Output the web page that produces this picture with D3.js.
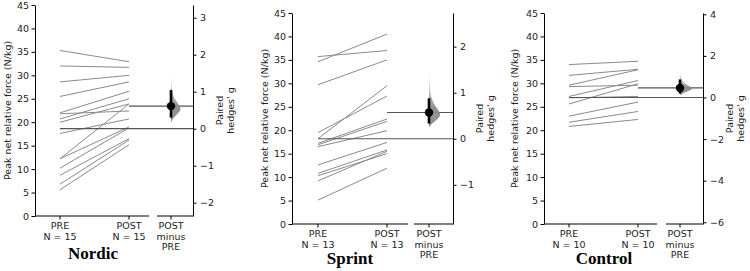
<!DOCTYPE html>
<html>
<head>
<meta charset="utf-8">
<script src="https://cdn.jsdelivr.net/npm/d3@7"></script>
<style>
  body { margin: 0; background: #fff; }
  svg { display: block; font-family: "DejaVu Sans", sans-serif; }
</style>
</head>
<body>
<svg id="drawing_region"></svg>
<script>
// values
const groups = ["Nordic", "Sprint", "Control"];
const conditions = ["PRE", "POST"];

const nordicPre  = [35.3, 32.0, 28.6, 25.5, 22.0, 21.8, 20.7, 20.0, 17.6, 12.2, 12.2, 10.2, 8.7, 6.8, 5.6];
const nordicPost = [32.9, 31.7, 30.0, 28.6, 26.6, 22.4, 25.0, 23.9, 20.7, 23.9, 19.0, 18.8, 16.5, 16.2, 15.2];

const sprintPre  = [35.7, 34.6, 29.7, 19.5, 18.2, 17.2, 16.9, 16.5, 12.6, 10.8, 10.3, 9.2, 5.1];
const sprintPost = [37.0, 40.5, 35.0, 27.3, 29.5, 22.4, 21.9, 19.9, 17.4, 15.8, 15.0, 15.5, 11.9];

const controlPre  = [34.0, 31.7, 29.6, 29.3, 27.2, 26.9, 25.6, 23.0, 21.7, 20.8];
const controlPost = [34.7, 33.0, 32.9, 29.6, 30.6, 27.2, 29.9, 26.0, 24.0, 22.3];

// paired hedges' g with 95% CI
const hedgesG = [0.61, 0.57, 0.46];
const ciLow   = [0.30, 0.33, 0.19];
const ciHigh  = [1.05, 0.88, 0.87];

// bootstrap distribution (relative density) of g
const nordicBootG    = [0.15, 0.25, 0.35, 0.45, 0.55, 0.65, 0.75, 0.85, 1.0, 1.2, 1.4, 1.6];
const nordicBootDens = [0, 0.12, 0.45, 0.85, 1.0, 0.8, 0.5, 0.28, 0.12, 0.04, 0.015, 0];
const sprintBootG    = [0.25, 0.32, 0.4, 0.5, 0.6, 0.7, 0.8, 0.95, 1.1, 1.3, 1.45, 1.6];
const sprintBootDens = [0, 0.2, 0.6, 1.0, 0.85, 0.55, 0.32, 0.14, 0.06, 0.02, 0.01, 0];
const controlBootG    = [0.1, 0.2, 0.3, 0.4, 0.5, 0.6, 0.7, 0.85, 1.0, 1.15, 1.3];
const controlBootDens = [0, 0.2, 0.6, 1.0, 0.85, 0.55, 0.3, 0.13, 0.05, 0.02, 0];

const leftTicks = [0, 5, 10, 15, 20, 25, 30, 35, 40, 45];
const nordicRightTicks  = [-2, -1, 0, 1, 2, 3];
const sprintRightTicks  = [-1, 0, 1, 2];
const controlRightTicks = [-6, -4, -2, 0, 2, 4];

const svg = d3.select('#drawing_region')
    .attr('width', 750)
    .attr('height', 271);

// violin fades out toward its upper tail
const grad = svg.append('defs').append('linearGradient')
    .attr('id', 'bootFill')
    .attr('x1', 0).attr('y1', 0).attr('x2', 0).attr('y2', 1);
grad.append('stop').attr('offset', '0%').attr('stop-color', '#8c8c8c').attr('stop-opacity', 0.15);
grad.append('stop').attr('offset', '45%').attr('stop-color', '#8c8c8c').attr('stop-opacity', 0.6);
grad.append('stop').attr('offset', '70%').attr('stop-color', '#8c8c8c').attr('stop-opacity', 0.95);
grad.append('stop').attr('offset', '100%').attr('stop-color', '#8c8c8c').attr('stop-opacity', 0.95);

// panel layout
const layouts = [
    { left: 35,  right: 193, top: 5,  bottom: 216, xPre: 60,  xPost: 129, xDiff: 171, seg1End: 149, seg2Start: 157, ylabX: 8,   titleX: 93,  titleY: 259, violinW: 10 },
    { left: 292, right: 453, top: 13, bottom: 224, xPre: 318, xPost: 387, xDiff: 429, seg1End: 408, seg2Start: 414, ylabX: 265, titleX: 350, titleY: 264, violinW: 12 },
    { left: 544, right: 703, top: 13, bottom: 224, xPre: 569, xPost: 638, xDiff: 680, seg1End: 657, seg2Start: 666, ylabX: 515, titleX: 604, titleY: 264, violinW: 13 }
];

const panelData = [
    { pre: nordicPre,  post: nordicPost,  bootG: nordicBootG,  bootD: nordicBootDens,  rTicks: nordicRightTicks },
    { pre: sprintPre,  post: sprintPost,  bootG: sprintBootG,  bootD: sprintBootDens,  rTicks: sprintRightTicks },
    { pre: controlPre, post: controlPost, bootG: controlBootG, bootD: controlBootDens, rTicks: controlRightTicks }
];

const FS = 9.5;
const TXT = '#222';

groups.forEach((name, i) => {
    const L = layouts[i];
    const D = panelData[i];
    const g = svg.append('g');

    const x = d3.scalePoint().domain(conditions).range([L.xPre, L.xPost]);
    const y = d3.scaleLinear().domain([0, 45]).range([L.bottom, L.top]);

    const preMean = d3.mean(D.pre);
    const postMean = d3.mean(D.post);

    // right axis: 0 at PRE mean, g at POST mean
    const yR = d3.scaleLinear().domain([0, hedgesG[i]]).range([y(preMean), y(postMean)]);
    yR.domain([yR.invert(L.bottom), yR.invert(L.top)]).range([L.bottom, L.top]);

    // paired lines
    const pairs = D.pre.map((v, k) => ({ pre: v, post: D.post[k] }));
    g.selectAll('.pair')
        .data(pairs)
        .enter()
        .append('line')
        .attr('class', 'pair')
        .attr('x1', x('PRE'))
        .attr('x2', x('POST'))
        .attr('y1', d => y(d.pre))
        .attr('y2', d => y(d.post))
        .attr('stroke', '#8a8a8a')
        .attr('stroke-width', 1);

    // reference lines at group means
    g.append('line')
        .attr('x1', x('PRE')).attr('x2', L.right)
        .attr('y1', y(preMean)).attr('y2', y(preMean))
        .attr('stroke', '#555').attr('stroke-width', 1.2);
    g.append('line')
        .attr('x1', x('POST')).attr('x2', L.right)
        .attr('y1', y(postMean)).attr('y2', y(postMean))
        .attr('stroke', '#555').attr('stroke-width', 1.2);

    // bootstrap half violin
    const wScale = d3.scaleLinear().domain([0, 1]).range([0, L.violinW]);
    const boot = D.bootG.map((v, k) => ({ g: v, d: D.bootD[k] }));
    g.append('path')
        .datum(boot)
        .attr('fill', 'url(#bootFill)')
        .attr('d', d3.area()
            .curve(d3.curveBasis)
            .y(d => yR(d.g))
            .x0(L.xDiff)
            .x1(d => L.xDiff + wScale(d.d)));

    // CI and point estimate
    g.append('line')
        .attr('x1', L.xDiff).attr('x2', L.xDiff)
        .attr('y1', yR(ciLow[i])).attr('y2', yR(ciHigh[i]))
        .attr('stroke', '#000').attr('stroke-width', 2.6);
    g.append('circle')
        .attr('cx', L.xDiff).attr('cy', yR(hedgesG[i]))
        .attr('r', 4.2)
        .attr('fill', '#000');

    // left axis
    const axL = g.append('g')
        .attr('transform', `translate(${L.left},0)`)
        .call(d3.axisLeft(y).tickValues(leftTicks).tickSize(3.5).tickSizeOuter(0).tickPadding(2.5));
    // right axis
    const axR = g.append('g')
        .attr('transform', `translate(${L.right},0)`)
        .call(d3.axisRight(yR).tickValues(D.rTicks).tickSize(3.5).tickSizeOuter(0).tickPadding(3.5).tickFormat(d3.format('d')));
    [axL, axR].forEach(ax => {
        ax.selectAll('text').attr('font-size', FS).attr('fill', TXT).attr('font-family', '"DejaVu Sans", sans-serif');
        ax.selectAll('path, line').attr('stroke', '#000');
    });

    // broken bottom axis
    const axB = g.append('g');
    axB.append('line')
        .attr('x1', L.left).attr('x2', L.seg1End)
        .attr('y1', L.bottom).attr('y2', L.bottom)
        .attr('stroke', '#000');
    axB.append('line')
        .attr('x1', L.seg2Start).attr('x2', L.right)
        .attr('y1', L.bottom).attr('y2', L.bottom)
        .attr('stroke', '#000');

    const n = D.pre.length;
    const xTicks = [
        { x: L.xPre,  lines: ['PRE', `N = ${n}`] },
        { x: L.xPost, lines: ['POST', `N = ${n}`] },
        { x: L.xDiff, lines: ['POST', 'minus', 'PRE'] }
    ];
    const tk = axB.selectAll('.xtick')
        .data(xTicks)
        .enter()
        .append('g')
        .attr('class', 'xtick')
        .attr('transform', d => `translate(${d.x},${L.bottom})`);
    tk.append('line').attr('y2', 3.5).attr('stroke', '#000');
    tk.append('text')
        .attr('text-anchor', 'middle')
        .attr('font-size', FS)
        .attr('fill', TXT)
        .selectAll('tspan')
        .data(d => d.lines)
        .enter()
        .append('tspan')
        .attr('x', 0)
        .attr('y', (d, k) => 13 + k * 10.5)
        .text(d => d);

    // y labels
    g.append('text')
        .attr('transform', `translate(${L.ylabX},${(L.top + L.bottom) / 2}) rotate(-90)`)
        .attr('text-anchor', 'middle')
        .attr('dy', '0.35em')
        .attr('font-size', FS)
        .attr('fill', TXT)
        .text('Peak net relative force (N/kg)');

    const rl = g.append('text')
        .attr('transform', `translate(${L.right + 30},${(L.top + L.bottom) / 2}) rotate(-90)`)
        .attr('text-anchor', 'middle')
        .attr('font-size', FS)
        .attr('fill', TXT);
    rl.append('tspan').attr('x', 0).attr('y', 0).text('Paired');
    rl.append('tspan').attr('x', 0).attr('y', 11).text("hedges' g");

    // group title
    g.append('text')
        .attr('x', L.titleX)
        .attr('y', L.titleY)
        .attr('text-anchor', 'middle')
        .attr('font-family', '"Liberation Serif", "Times New Roman", serif')
        .attr('font-weight', 'bold')
        .attr('font-size', 17)
        .attr('fill', '#000')
        .text(name);
});
</script>
</body>
</html>
